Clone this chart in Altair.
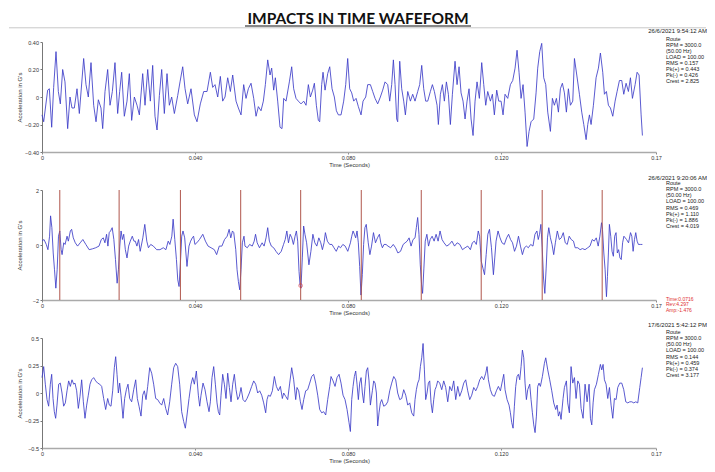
import altair as alt
import pandas as pd

# ---------------- data (time in ms, acceleration in G) -------------
TOP_WAVE = [
    (0.0, -0.13), (0.44, -0.18), (1.48, 0.05), (1.92, 0.06), (2.53, -0.22), (3.05, 0.07), (3.66, 0.33),
    (4.27, 0.04), (4.79, -0.05), (5.40, 0.20), (6.01, 0.11), (6.71, -0.23), (7.32, 0.0), (7.84, -0.08),
    (8.45, -0.08), (9.15, 0.06), (9.76, -0.12), (10.89, 0.28), (11.50, 0.09), (12.11, 0.0), (12.81, 0.25),
    (13.51, -0.06), (14.12, -0.18), (14.73, -0.02), (15.42, -0.08), (15.86, -0.23), (16.47, 0.04),
    (17.17, 0.20), (17.78, -0.06), (18.39, 0.04), (19.08, 0.25), (19.78, -0.12), (20.30, 0.04),
    (20.83, 0.18), (21.52, -0.14), (22.22, -0.03), (22.83, 0.17), (23.44, -0.17), (24.14, 0.0),
    (24.84, -0.06), (25.45, -0.13), (26.32, 0.17), (26.93, -0.06), (27.63, 0.20), (28.32, -0.03),
    (28.93, 0.23), (29.54, -0.14), (30.07, -0.24), (30.68, 0.01), (31.29, 0.20), (31.98, -0.12),
    (32.68, 0.17), (33.29, -0.06), (33.90, 0.0), (34.60, -0.12), (35.47, 0.01), (36.08, 0.11),
    (36.78, 0.22), (37.39, 0.06), (38.08, -0.05), (38.95, 0.06), (39.83, -0.13), (40.52, -0.18),
    (41.39, -0.05), (42.27, 0.04), (43.14, 0.04), (44.01, 0.18), (44.62, 0.07), (45.23, 0.09),
    (45.93, 0.0), (46.62, 0.15), (47.23, -0.03), (47.84, 0.0), (48.54, 0.14), (49.24, 0.04),
    (49.85, 0.16), (50.72, -0.03), (51.33, -0.08),
    (52.03, -0.13), (52.72, 0.09), (53.33, -0.01), (53.94, 0.06), (54.64, 0.10), (55.34, -0.01),
    (55.95, -0.14), (56.56, -0.07), (57.25, -0.10), (57.86, -0.03), (58.39, 0.09), (59.00, 0.27),
    (59.61, 0.16), (60.04, 0.21), (60.56, 0.05), (61.00, 0.14), (61.61, -0.03), (62.22, -0.22),
    (62.74, -0.23), (63.18, -0.01), (63.79, -0.03), (64.66, 0.11), (65.27, 0.22), (65.79, 0.06),
    (66.40, -0.01), (67.01, -0.03), (67.71, -0.05), (68.41, -0.03), (69.02, -0.06), (69.63, 0.09),
    (70.15, 0.0), (70.76, 0.05), (71.20, 0.10), (71.72, -0.06), (72.24, -0.17), (72.59, -0.18),
    (73.11, 0.09), (73.46, 0.18), (73.99, 0.05), (74.68, 0.17), (75.21, 0.22), (75.82, 0.06),
    (76.42, 0.0), (76.95, -0.10), (77.47, -0.13), (78.17, -0.13), (78.86, -0.03), (79.39, 0.09),
    (79.91, 0.28), (80.43, 0.06), (80.96, 0.03), (81.48, -0.03), (82.09, -0.01), (82.70, -0.07),
    (83.40, -0.13), (83.92, -0.03), (84.62, 0.0), (85.14, 0.09), (85.84, 0.09), (86.45, 0.04),
    (87.06, -0.01), (87.75, -0.05), (88.45, 0.0), (89.06, 0.05), (89.67, 0.11), (90.37, 0.09),
    (90.89, -0.03), (91.41, 0.09), (91.85, 0.27), (92.29, 0.09), (92.72, -0.16), (92.98, -0.18),
    (93.51, 0.26), (94.03, 0.06), (94.55, -0.03), (94.99, -0.13), (95.60, 0.04), (96.30, -0.03),
    (96.90, 0.02), (97.51, -0.03), (98.21, 0.04), (98.73, 0.09), (99.26, 0.23), (99.78, 0.06),
    (100.30, -0.03), (100.83, -0.03), (101.52, 0.04), (102.05, 0.09), (102.57, 0.04), (103.27, -0.06),
    (103.61, -0.20), (104.14, 0.02), (104.66, 0.09), (105.18, -0.03), (105.71, 0.11), (106.23, 0.02),
    (106.75, -0.20), (107.28, 0.02), (107.97, 0.26), (108.50, 0.09), (109.02, 0.22), (109.54, 0.03),
    (110.06, -0.03), (110.59, -0.16), (111.11, -0.03), (111.63, 0.06), (112.16, -0.16), (112.68, -0.28),
    (113.20, -0.03), (113.72, 0.11), (114.33, -0.01), (114.94, 0.25), (115.47, 0.09), (115.99, -0.06),
    (116.51, 0.04), (117.21, -0.03), (117.73, 0.02), (118.25, -0.13), (118.86, 0.05), (119.39, -0.03),
    (120.00, -0.03), (120.52, -0.13), (121.04, 0.02), (121.74, -0.01), (122.44, 0.09), (123.05, 0.12),
    (123.66, 0.21), (124.18, 0.34), (124.70, 0.18), (125.23, -0.01), (125.75, 0.09), (126.27, -0.11),
    (126.80, -0.36), (127.32, -0.25), (127.84, -0.18), (128.54, -0.16), (129.15, 0.03), (129.58, 0.21),
    (130.11, 0.33), (130.63, 0.39), (131.15, 0.14), (131.68, 0.09), (132.20, -0.11), (132.90, -0.25),
    (133.42, -0.01), (133.94, -0.06), (134.47, -0.01), (134.99, -0.11), (135.51, 0.06), (136.03, 0.10),
    (136.56, 0.03), (137.08, -0.11), (137.60, 0.06), (138.13, -0.06),
    (138.74, -0.03), (139.18, 0.28), (139.79, 0.16), (140.48, 0.02), (141.09, -0.11), (141.62, -0.20),
    (142.23, -0.31), (142.66, -0.20), (143.10, -0.13), (143.53, -0.20), (144.14, -0.06), (144.84, 0.14),
    (145.45, 0.21), (145.97, 0.32), (146.58, 0.18), (147.02, 0.02), (147.54, 0.04), (148.06, -0.06),
    (148.59, -0.08), (149.20, -0.14), (149.81, -0.03), (150.33, 0.04), (150.94, 0.12), (151.55, 0.12),
    (152.07, 0.02), (152.68, 0.10), (153.29, 0.04), (153.82, 0.14), (154.34, -0.01), (155.04, 0.09),
    (155.56, 0.18), (156.08, 0.16), (156.61, -0.13), (156.95, -0.28),
]

MID_WAVE = [
    (0.0, 0.14), (0.52, 0.20), (1.12, 0.02), (1.55, -0.17), (1.98, 0.32), (2.24, 1.06), (2.58, 0.63),
    (2.93, -0.29), (3.27, -0.90), (3.62, -1.57), (3.96, -0.90), (4.31, 0.32), (4.65, 0.51), (5.00, -0.17),
    (5.25, -0.35), (5.68, 0.08), (6.03, 0.02), (6.55, 0.32), (6.89, 0.14), (7.41, 0.51), (7.75, 0.57),
    (8.18, 0.26), (8.70, 0.08), (9.30, -0.04), (9.99, 0.08), (10.68, 0.20), (11.46, 0.02), (12.32, -0.17),
    (13.18, -0.14), (14.04, -0.10), (14.90, -0.04), (15.50, 0.20), (16.02, 0.26), (16.45, 0.08),
    (16.88, 0.39), (17.23, -0.04), (17.57, 0.45), (17.92, 0.51), (18.35, 0.63), (18.78, 0.20),
    (19.21, -0.53), (19.64, -1.39), (19.98, -0.90), (20.33, -0.04), (20.67, 0.51), (21.02, 0.20),
    (21.36, 0.39), (21.79, -0.17), (22.22, -0.47), (22.65, -0.04), (23.08, 0.14), (23.60, 0.32),
    (24.03, 0.14), (24.38, 0.14), (24.81, -0.04), (25.24, 0.20), (25.67, -0.23), (26.36, 0.26),
    (26.87, 0.75), (27.39, 0.14), (27.82, -0.10), (28.42, 0.02), (29.11, -0.04), (29.97, -0.17),
    (30.84, -0.17), (31.70, -0.10), (32.39, -0.17), (32.99, 0.14), (33.42, 0.02), (33.94, 0.32),
    (34.28, 0.94), (34.71, 0.20), (35.14, -0.53), (35.49, -1.27), (35.83, -1.51), (36.18, -0.65),
    (36.52, 0.32), (36.86, 0.51), (37.30, 0.26), (37.90, -0.78), (38.42, -0.04), (38.85, 0.14),
    (39.28, 0.26), (39.62, 0.32), (39.97, 0.02), (40.48, 0.08), (41.17, 0.20), (42.03, 0.39),
    (42.72, 0.14), (43.41, -0.04), (44.19, -0.10), (45.05, -0.17), (45.65, -0.35), (46.34, -0.04),
    (47.03, -0.04), (47.72, 0.20), (48.41, 0.32), (48.92, 0.57), (49.35, 0.26), (49.78, 0.51),
    (50.13, 0.45), (50.65, -0.17), (50.99, -0.90), (51.34, -1.33), (51.68, -1.63), (52.02, -0.90),
    (52.37, 0.08), (52.80, 0.32),
    (53.06, -0.04), (53.66, -0.10), (54.27, 0.02), (54.96, -0.04), (55.47, 0.14), (55.82, 0.39),
    (56.25, 0.08), (56.85, -0.10), (57.54, 0.08), (58.06, -0.04), (58.57, 0.26), (59.00, 0.63),
    (59.44, 0.14), (59.95, -0.04), (60.56, -0.10), (61.16, -0.23), (61.85, -0.35), (62.54, -0.23),
    (63.14, 0.02), (63.57, 0.20), (64.00, 0.51), (64.43, 0.08), (64.86, 0.39), (65.29, 0.26),
    (65.72, 0.02), (66.15, 0.32), (66.50, 0.51), (66.84, 0.14), (67.19, -0.96), (67.45, -1.45),
    (67.70, -1.57), (68.05, -0.47), (68.39, 0.69), (68.74, 0.39), (69.17, 0.08), (69.77, -0.72),
    (70.29, -0.23), (70.81, 0.39), (71.32, 0.08), (71.84, -0.04), (72.36, 0.26), (72.87, 0.08),
    (73.30, -0.17), (73.73, 0.08), (74.08, 0.45), (74.59, 0.14), (75.20, 0.02), (75.80, 0.02),
    (76.32, -0.10), (76.92, -0.23), (77.52, -0.04), (78.04, -0.10), (78.64, 0.02), (79.25, -0.04),
    (79.93, -0.23), (80.62, 0.08), (80.97, 0.32), (81.31, 0.51), (81.66, 0.39), (82.00, 0.26),
    (82.35, 0.51), (82.69, 0.08), (83.04, -0.78), (83.38, -1.82), (83.73, -1.08), (84.07, 0.02),
    (84.41, 0.63), (84.76, 0.75), (85.28, 0.08), (85.71, -0.35), (86.14, -0.04), (86.65, 0.45),
    (87.17, 0.08), (87.69, 0.26), (88.20, 0.39), (88.55, 0.08), (88.98, -0.10), (89.41, 0.02),
    (89.93, 0.02), (90.44, -0.04), (91.13, -0.10), (91.82, 0.02), (92.42, -0.10), (93.03, -0.29),
    (93.72, -0.23), (94.41, 0.02), (94.92, 0.08), (95.44, 0.14), (95.96, 0.26), (96.47, -0.04),
    (96.99, 0.20), (97.51, 0.26), (97.85, 0.63), (98.20, 1.00), (98.54, 0.39), (98.88, -0.72),
    (99.23, -1.45), (99.49, -1.76), (99.83, -0.84), (100.18, 0.14), (100.61, 0.39), (101.04, -0.04),
    (101.47, 0.20), (101.98, 0.32), (102.50, 0.14), (103.02, 0.39), (103.54, 0.14), (104.05, 0.51),
    (104.57, 0.20), (105.09, 0.08), (105.77, -0.04), (106.46, 0.02), (107.15, 0.14), (107.84, -0.04),
    (108.53, 0.08), (109.22, 0.02), (109.91, -0.17), (110.60, -0.10), (111.29, -0.04), (111.98, -0.17),
    (112.49, 0.08), (113.01, 0.14), (113.53, 0.02), (114.04, 0.51), (114.39, 0.32), (114.82, -0.59),
    (115.25, -0.84), (115.68, -1.08), (116.11, -0.35), (116.54, 0.39), (116.97, 0.57), (117.49, -0.10),
    (118.00, -1.08), (118.35, -0.47), (118.69, 0.14), (119.21, 0.51), (119.73, 0.26), (120.24, 0.08),
    (120.85, 0.02), (121.45, 0.26), (121.97, 0.39), (122.48, 0.20), (123.00, 0.08), (123.52, -0.23),
    (124.03, -0.04), (124.55, 0.32), (125.07, -0.04), (125.58, -0.35), (126.10, -0.10), (126.62, -0.04),
    (127.13, -0.10), (127.74, 0.02), (128.34, -0.04), (128.86, 0.39), (129.37, 0.51), (129.72, 0.20),
    (130.06, 0.39), (130.41, 0.75), (130.75, -0.10), (131.10, -1.20), (131.44, -1.76), (131.79, -0.84),
    (132.13, 0.26), (132.47, 0.63), (132.90, 0.26), (133.33, 0.02), (133.76, -0.35), (134.19, 0.08),
    (134.71, 0.51), (135.23, 0.20), (135.74, 0.26), (136.26, 0.45), (136.78, 0.08), (137.30, 0.02),
    (137.81, 0.32), (138.33, 0.20),
    (138.93, 0.14), (139.37, -0.10), (140.05, -0.10), (140.66, -0.17), (141.26, -0.13), (141.95, -0.17),
    (142.64, -0.10), (143.24, -0.04), (143.84, 0.20), (144.36, 0.14), (144.88, 0.26), (145.39, -0.04),
    (145.83, 0.32), (146.26, 0.81), (146.51, 0.57), (146.86, -0.29), (147.20, -0.90), (147.55, -1.88),
    (147.81, -1.14), (148.06, -0.29), (148.32, 0.75), (148.67, 0.32), (149.01, -0.23), (149.36, -0.41),
    (149.70, 0.32), (150.05, 0.45), (150.39, -0.29), (150.73, -0.17), (151.08, -0.47), (151.42, -0.53),
    (151.77, 0.08), (152.11, 0.32), (152.46, 0.26), (152.80, 0.20), (153.32, 0.08), (153.84, 0.45),
    (154.18, 0.32), (154.52, -0.23), (154.87, 0.20), (155.21, 0.45), (155.56, 0.14), (155.90, 0.02),
    (156.42, 0.02), (156.94, 0.02),
]

BOT_WAVE = [
    (0.0, 0.14), (0.44, 0.24), (0.87, 0.08), (1.31, -0.06), (1.74, -0.12), (2.18, 0.08), (2.53, 0.17),
    (2.88, -0.05), (3.22, -0.17), (3.57, -0.23), (3.92, -0.11), (4.36, 0.08), (4.79, 0.09), (5.23, 0.0),
    (5.66, -0.12), (6.10, -0.09), (6.54, 0.02), (6.97, 0.11), (7.41, 0.06), (7.84, 0.12), (8.28, 0.08),
    (8.63, 0.09), (9.06, 0.02), (9.50, -0.14), (9.93, -0.03), (10.37, 0.12), (10.81, -0.08),
    (11.24, -0.23), (11.68, -0.11), (12.11, -0.02), (12.55, 0.08), (12.98, 0.12), (13.51, 0.14),
    (14.03, 0.11), (14.55, 0.09), (15.08, 0.08), (15.60, 0.06), (16.12, -0.05), (16.64, -0.15),
    (17.17, -0.05), (17.60, -0.11), (18.04, -0.12), (18.47, 0.02), (18.91, 0.23), (19.26, 0.33),
    (19.61, 0.17), (19.96, 0.0), (20.30, 0.09), (20.65, -0.02), (21.18, -0.23), (21.61, -0.05),
    (22.05, 0.03), (22.48, 0.08), (22.92, -0.05), (23.44, -0.08), (23.97, 0.03), (24.49, 0.12),
    (24.92, -0.05), (25.36, -0.12), (25.88, -0.21), (26.32, -0.02), (26.75, 0.02), (27.19, -0.06),
    (27.63, 0.06), (28.15, 0.23), (28.67, 0.18), (29.19, 0.08), (29.72, -0.05), (30.24, -0.06),
    (30.76, -0.09), (31.29, -0.11), (31.81, -0.05), (32.33, -0.14), (32.85, -0.20), (33.38, -0.08),
    (33.90, 0.08), (34.42, 0.23), (34.95, 0.27), (35.47, 0.24), (35.99, 0.08), (36.51, -0.17),
    (37.04, -0.26), (37.47, -0.32), (37.91, -0.20), (38.43, -0.05), (38.95, 0.08), (39.39, 0.14),
    (39.83, 0.08), (40.35, 0.20), (40.87, -0.02), (41.22, -0.12), (41.57, -0.02), (42.09, 0.09),
    (42.61, 0.03), (43.14, -0.08), (43.66, -0.17), (44.01, -0.08), (44.44, 0.14), (44.88, 0.24),
    (45.32, 0.08), (45.75, -0.09), (46.10, -0.17), (46.45, -0.20), (46.80, -0.02), (47.23, 0.17),
    (47.67, 0.08), (48.10, -0.05), (48.54, 0.18), (48.98, 0.05), (49.41, -0.08), (49.85, 0.08),
    (50.28, 0.17), (50.72, 0.03), (51.16, -0.06), (51.59, -0.03),
    (52.02, 0.05), (52.55, -0.06), (53.07, -0.08), (53.59, -0.05), (54.20, 0.0), (54.81, 0.06),
    (55.34, 0.11), (55.86, 0.08), (56.38, 0.0), (56.90, 0.02), (57.43, -0.02), (57.95, -0.09),
    (58.47, -0.18), (58.82, -0.06), (59.17, -0.02), (59.69, -0.03), (60.22, 0.02), (60.74, 0.15),
    (61.26, 0.06), (61.78, 0.02), (62.31, 0.06), (62.83, -0.05), (63.18, 0.0), (63.70, -0.03),
    (64.22, -0.06), (64.75, 0.09), (65.27, 0.23), (65.79, 0.12), (66.32, -0.06), (66.66, 0.05),
    (67.10, 0.02), (67.54, -0.08), (67.97, -0.15), (68.41, -0.06), (68.93, 0.02), (69.45, 0.03),
    (69.98, 0.09), (70.50, 0.15), (71.02, 0.17), (71.55, 0.09), (72.07, -0.02), (72.59, -0.15),
    (73.11, -0.18), (73.64, -0.17), (74.16, -0.20), (74.68, -0.06), (75.21, 0.06), (75.55, 0.15),
    (76.08, 0.11), (76.60, 0.06), (77.12, 0.14), (77.65, 0.17), (78.17, 0.09), (78.69, -0.02),
    (79.21, -0.06), (79.74, -0.15), (80.26, -0.27), (80.61, -0.35), (80.96, -0.06), (81.31, 0.06),
    (81.65, 0.15), (82.00, 0.20), (82.35, 0.08), (82.70, -0.06), (83.05, 0.09), (83.40, 0.14),
    (83.75, 0.0), (84.09, -0.09), (84.44, 0.06), (84.79, 0.20), (85.14, 0.23), (85.49, 0.11),
    (85.84, -0.11), (86.36, 0.02), (86.71, 0.11), (87.06, 0.09), (87.41, 0.0), (87.75, -0.30),
    (88.10, -0.18), (88.45, -0.09), (88.80, -0.06), (89.32, -0.12), (89.85, -0.11), (90.37, -0.08),
    (90.89, 0.02), (91.41, 0.09), (91.94, 0.15), (92.46, 0.12), (92.98, 0.0), (93.51, -0.06),
    (94.03, -0.05), (94.55, 0.03), (95.08, -0.02), (95.60, -0.11), (96.12, -0.09), (96.64, -0.18),
    (97.17, -0.21), (97.51, -0.06), (97.86, 0.03), (98.21, 0.09), (98.56, 0.12), (98.91, 0.24),
    (99.26, 0.32), (99.61, 0.45), (99.96, 0.21), (100.30, -0.06), (100.65, 0.0), (101.00, 0.09),
    (101.35, 0.11), (101.70, -0.09), (102.05, -0.18), (102.40, -0.06), (102.74, 0.03), (103.09, 0.06),
    (103.44, 0.11), (103.96, 0.09), (104.49, 0.03), (105.01, 0.11), (105.53, 0.05), (106.06, -0.08),
    (106.58, 0.06), (107.10, 0.02), (107.62, 0.11), (108.15, -0.06), (108.67, 0.06), (109.19, -0.03),
    (109.72, 0.02), (110.24, 0.09), (110.76, 0.12), (111.28, 0.02), (111.81, -0.06), (112.33, -0.02),
    (112.85, 0.05), (113.38, 0.02), (113.90, 0.06), (114.42, 0.12), (114.94, 0.15), (115.47, 0.12),
    (115.99, 0.18), (116.34, 0.24), (116.69, 0.12), (117.21, 0.03), (117.73, -0.02), (118.26, -0.03),
    (118.78, 0.02), (119.30, 0.06), (119.83, 0.02), (120.35, 0.11), (120.70, 0.17), (121.04, 0.03),
    (121.57, -0.06), (122.09, -0.11), (122.44, -0.18), (122.79, -0.27), (123.14, -0.32), (123.48, -0.12),
    (123.83, 0.06), (124.18, 0.15), (124.53, 0.17), (124.88, 0.12), (125.23, 0.24), (125.58, 0.39),
    (125.93, 0.32), (126.27, 0.09), (126.62, -0.06), (126.97, 0.03), (127.49, 0.08), (127.84, -0.06),
    (128.19, -0.18), (128.54, -0.29), (128.89, -0.36), (129.24, -0.21), (129.58, 0.06), (129.93, 0.09),
    (130.28, 0.06), (130.80, 0.15), (131.33, 0.27), (131.68, 0.32), (132.20, 0.21), (132.72, 0.12),
    (133.25, 0.02), (133.77, -0.09), (134.29, -0.15), (134.64, -0.11), (134.99, -0.21), (135.34, -0.17),
    (135.68, -0.24), (136.21, -0.05), (136.56, 0.05), (137.08, 0.11), (137.43, -0.09), (137.86, -0.18),
    (138.30, 0.24), (138.74, 0.09), (139.18, 0.14), (139.61, -0.05), (140.05, 0.11), (140.48, 0.08),
    (140.92, -0.14), (141.44, -0.23), (141.96, 0.08), (142.49, -0.08), (143.01, 0.08), (143.36, -0.23),
    (143.71, -0.29), (144.06, -0.09), (144.40, 0.03), (144.93, 0.08), (145.45, 0.17), (145.97, 0.26),
    (146.32, 0.21), (146.67, 0.26), (147.02, 0.12), (147.45, 0.08), (147.89, -0.05), (148.33, 0.05),
    (148.76, -0.11), (149.20, -0.23), (149.63, -0.05), (150.07, -0.06), (150.50, 0.05), (151.03, 0.09),
    (151.55, 0.09), (152.07, 0.03), (152.60, -0.08), (153.12, -0.09), (153.64, -0.08), (154.17, -0.08),
    (154.69, -0.09), (155.21, -0.08), (155.73, -0.09), (156.26, 0.05), (156.61, 0.14), (156.95, 0.23),
]

# impact markers (ms) and cursor on the middle waveform
MID_MARKERS_MS = [4.65, 20.16, 36.18, 51.94, 67.62, 83.46, 99.14, 114.81, 130.75, 146.43]
CURSOR_MS, CURSOR_G = 67.6, -1.476

X_END = 0.1605
X_TICKS = [0, 0.04, 0.08, 0.12, 0.1605]

TOP_Y = [-0.4, -0.2, 0, 0.2, 0.4]
MID_Y = [-2, -1, 0, 1, 2]
BOT_Y = [-0.5, -0.25, 0, 0.25, 0.5]

TITLE = "IMPACTS IN TIME WAFEFORM"
STAMPS = ["26/6/2021 9:54:12 AM", "26/6/2021 9:20:06 AM", "17/6/2021 5:42:12 PM"]
INFOS = [
    ["Route", "RPM = 3000.0", "(50.00 Hz)", "LOAD = 100.00", "RMS = 0.157", "Pk(+) = 0.443", "Pk(-) = 0.426", "Crest = 2.825"],
    ["Route", "RPM = 3000.0", "(50.00 Hz)", "LOAD = 100.00", "RMS = 0.469", "Pk(+) = 1.110", "Pk(-) = 1.886", "Crest = 4.019"],
    ["Route", "RPM = 3000.0", "(50.00 Hz)", "LOAD = 100.00", "RMS = 0.144", "Pk(+) = 0.459", "Pk(-) = 0.374", "Crest = 3.177"],
]
CURSOR_TEXT = ["Time:0.0716", "Rev:4.297", "Amp:-1.476"]

FONT = "Liberation Sans"
W, H = 614, 110


def wave_df(pairs):
    return pd.DataFrame({"t": [p[0] / 1000.0 for p in pairs], "g": [p[1] for p in pairs]})


def one():
    return alt.Data(values=[{"k": 0}])


def panel(pairs, yvals, ylab_expr, stamp, info, stamp_y, info_y, extra=()):
    x = alt.X(
        "t:Q",
        scale=alt.Scale(domain=[0, X_END], nice=False, zero=False),
        axis=alt.Axis(
            values=X_TICKS,
            labelExpr="datum.value == 0 ? '0' : (datum.value > 0.15 ? '0.17' : format(datum.value, '.3f'))",
            title="Time (Seconds)",
            labelFlush=False,
            grid=False,
            labelFontSize=5.5,
            labelColor="#333333",
            labelPadding=1,
            tickSize=2,
            tickColor="#888888",
            domainColor="#aaaaaa",
            domainWidth=1.6,
            titleFontSize=5.8,
            titleFontWeight="normal",
            titleColor="#333333",
            titlePadding=1,
            labelFont=FONT,
            titleFont=FONT,
        ),
    )
    y = alt.Y(
        "g:Q",
        scale=alt.Scale(domain=[yvals[0], yvals[-1]], nice=False, zero=False),
        axis=alt.Axis(
            values=yvals,
            labelExpr=ylab_expr,
            title="Acceleration in G's",
            grid=False,
            labelFontSize=5.5,
            labelColor="#333333",
            labelPadding=1.5,
            tickSize=2,
            tickColor="#777777",
            domainColor="#777777",
            domainWidth=1,
            titleFontSize=6,
            titleFontWeight="normal",
            titleColor="#333333",
            titleX=-23,
            titleBaseline="middle",
            labelFont=FONT,
            titleFont=FONT,
        ),
    )
    line = alt.Chart(wave_df(pairs)).mark_line(color="#3c3cc8", strokeWidth=0.85).encode(x=x, y=y)
    stamp_t = alt.Chart(one()).mark_text(
        align="right", baseline="middle", fontSize=6, font=FONT, color="#222222"
    ).encode(x=alt.value(665), y=alt.value(stamp_y), text=alt.value(stamp))
    info_t = alt.Chart(one()).mark_text(
        align="left", baseline="top", fontSize=5.5, lineHeight=6.1, font=FONT, color="#222222"
    ).encode(x=alt.value(624), y=alt.value(info_y), text=alt.value(info))
    layers = [line] + list(extra) + [stamp_t, info_t]
    return alt.layer(*layers).properties(width=W, height=H)


# decorations on top panel: white spacer (keeps the layout top), title, underline, separator
spacer = alt.Chart(one()).mark_rule(color="white", strokeWidth=1).encode(
    x=alt.value(0), x2=alt.value(12), y=alt.value(-33.5)
)
title_t = alt.Chart(one()).mark_text(
    align="center", baseline="alphabetic", fontSize=15.5, fontWeight="bold", font="Lato", color="#111111"
).encode(x=alt.value(316), y=alt.value(-18), text=alt.value(TITLE))
underline = alt.Chart(one()).mark_rule(color="#111111", strokeWidth=1.2).encode(
    x=alt.value(203), x2=alt.value(429), y=alt.value(-16)
)
separator = alt.Chart(one()).mark_rule(color="#c8c8c8", strokeWidth=1).encode(
    x=alt.value(-33), x2=alt.value(664), y=alt.value(-14.2)
)

# middle panel extras
markers = alt.Chart(pd.DataFrame({"t": [m / 1000.0 for m in MID_MARKERS_MS]})).mark_rule(
    color="#b0564c", strokeWidth=1
).encode(x="t:Q")
cursor = alt.Chart(pd.DataFrame({"t": [CURSOR_MS / 1000.0], "g": [CURSOR_G]})).mark_point(
    shape="circle", size=14, color="#e03030", filled=False, strokeWidth=0.8
).encode(x="t:Q", y="g:Q")
cursor_t = alt.Chart(one()).mark_text(
    align="left", baseline="top", fontSize=5, lineHeight=5.3, font=FONT, color="#e03030"
).encode(x=alt.value(624), y=alt.value(107), text=alt.value(CURSOR_TEXT))

p1 = panel(TOP_WAVE, TOP_Y, "datum.value == 0 ? '0' : format(datum.value, '.2f')",
           STAMPS[0], INFOS[0], -11.5, -5.5, extra=[spacer, title_t, underline, separator])
p2 = panel(MID_WAVE, MID_Y, "format(datum.value, 'd')",
           STAMPS[1], INFOS[1], -11.7, -8.8, extra=[markers, cursor, cursor_t])
p3 = panel(BOT_WAVE, BOT_Y, "datum.value == 0 ? '0' : format(datum.value, '~g')",
           STAMPS[2], INFOS[2], -12.7, -7.8)

chart = alt.vconcat(p1, p2, p3, spacing=38, bounds="flush").properties(
    padding=0, background="white"
).configure_view(stroke=None)

chart.save("out.html", embed_options={"renderer": "svg", "actions": False})
